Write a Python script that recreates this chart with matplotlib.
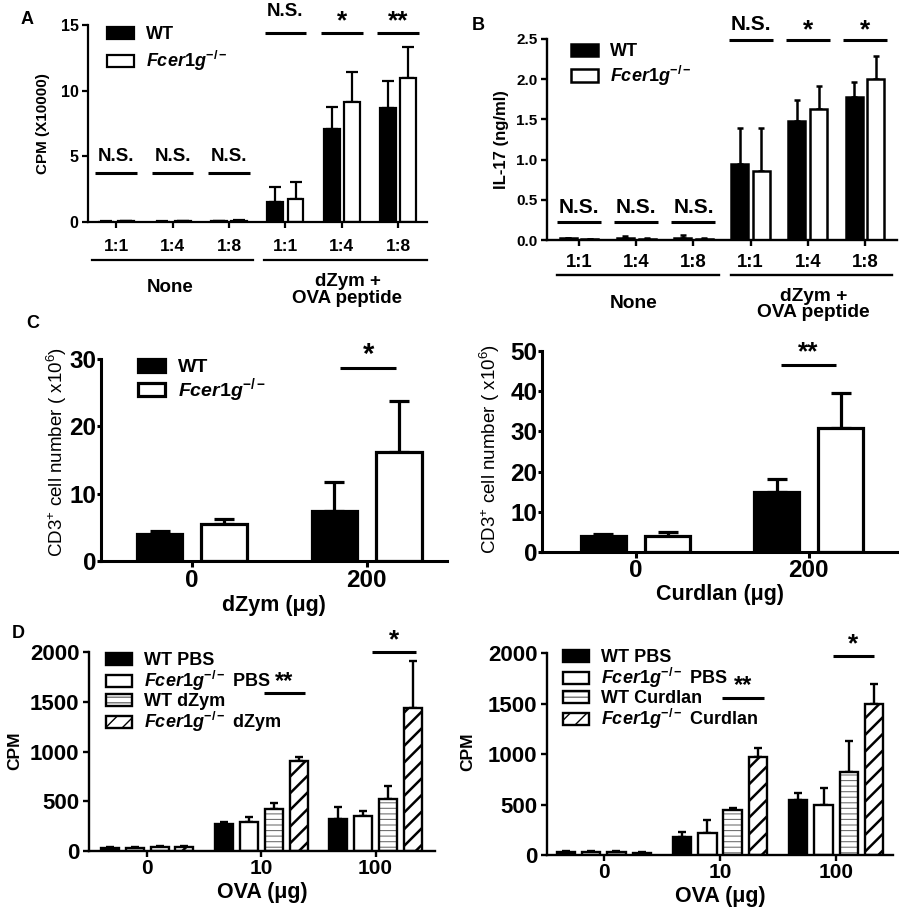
import numpy as np
import matplotlib
matplotlib.use("Agg")
import matplotlib.pyplot as plt
from matplotlib.transforms import blended_transform_factory


# -----------------------------
# Data
# -----------------------------
ratio_labels = ["1:1", "1:4", "1:8", "1:1", "1:4", "1:8"]

# A) proliferation, CPM (x10000)
a_wt = [0.03, 0.03, 0.04, 1.55, 7.08, 8.66]
a_wt_sem = [0.02, 0.02, 0.02, 1.14, 1.65, 2.05]
a_ko = [0.06, 0.07, 0.10, 1.75, 9.11, 11.0]
a_ko_sem = [0.02, 0.02, 0.03, 1.32, 2.34, 2.35]
a_sig = ["N.S.", "N.S.", "N.S.", "N.S.", "*", "**"]

# B) IL-17 (ng/ml)
b_wt = [0.02, 0.03, 0.02, 0.94, 1.48, 1.78]
b_wt_sem = [0.01, 0.02, 0.04, 0.45, 0.26, 0.19]
b_ko = [0.01, 0.01, 0.01, 0.86, 1.63, 2.00]
b_ko_sem = [0.00, 0.01, 0.02, 0.53, 0.28, 0.29]
b_sig = ["N.S.", "N.S.", "N.S.", "N.S.", "*", "*"]

# C) CD3+ cell number (x10^6)
dose_labels = ["0", "200"]
c1_wt = [3.97, 7.45]
c1_wt_sem = [0.50, 4.32]
c1_ko = [5.46, 16.15]
c1_ko_sem = [0.84, 7.65]
c2_wt = [4.06, 14.9]
c2_wt_sem = [0.54, 3.2]
c2_ko = [3.90, 30.96]
c2_ko_sem = [1.07, 8.69]

# D) CPM
ova_labels = ["0", "10", "100"]
d1_vals = {
    "WT PBS": ([33, 271, 324], [8, 23, 121]),
    "KO PBS": ([33, 288, 355], [6, 56, 50]),
    "WT stim": ([43, 421, 522], [8, 57, 130]),
    "KO stim": ([40, 903, 1441], [10, 43, 469]),
}
d2_vals = {
    "WT PBS": ([33, 175, 545], [8, 50, 67]),
    "KO PBS": ([33, 215, 496], [8, 132, 172]),
    "WT stim": ([33, 446, 826], [8, 17, 305]),
    "KO stim": ([23, 969, 1494], [6, 95, 199]),
}

KO = r"$\mathit{Fcer1g}^{-/-}$"

# -----------------------------
# Style
# -----------------------------
plt.rcParams["font.family"] = ["Liberation Sans", "DejaVu Sans"]
plt.rcParams["font.weight"] = "bold"
plt.rcParams["mathtext.fontset"] = "custom"
plt.rcParams["mathtext.rm"] = "Liberation Sans:bold"
plt.rcParams["mathtext.it"] = "Liberation Sans:italic:bold"
plt.rcParams["mathtext.bf"] = "Liberation Sans:bold"
plt.rcParams["hatch.linewidth"] = 1.0

W, H = 899, 913
fig = plt.figure(figsize=(W / 100, H / 100), dpi=100)


def px_axes(l, t, r, b):
    return fig.add_axes([l / W, 1 - b / H, (r - l) / W, (b - t) / H])


def style(ax, ysize, xsize, pad, lw, ylen=4.3, ypad=2.5):
    ax.spines["top"].set_visible(False)
    ax.spines["right"].set_visible(False)
    ax.spines["left"].set_linewidth(lw)
    ax.spines["bottom"].set_linewidth(lw)
    ax.tick_params(width=lw, length=4.3)
    ax.tick_params(axis="y", labelsize=ysize, pad=ypad, length=ylen)
    ax.tick_params(axis="x", labelsize=xsize, pad=pad)
    for t in ax.get_xticklabels() + ax.get_yticklabels():
        t.set_fontweight("bold")


def bars(ax, x, vals, sem, width, color, lw, cap, hatch=None, hatch_color=None, hatch_lw=1.0):
    if hatch is not None:
        # hatch drawn in its own colour, outline on top in black
        with plt.rc_context({"hatch.linewidth": hatch_lw}):
            hb = ax.bar(x, vals, width, color=color, edgecolor=hatch_color, linewidth=0,
                        hatch=hatch, zorder=2)
        bc = ax.bar(x, vals, width, facecolor="none", edgecolor="black",
                    linewidth=lw, zorder=3)
        handle = (hb.patches[0], bc.patches[0])
    else:
        bc = ax.bar(x, vals, width, color=color, edgecolor="black", linewidth=lw, zorder=2)
        handle = bc.patches[0]
    ax.errorbar(x, vals, yerr=[np.zeros(len(vals)), sem], fmt="none",
                ecolor="black", elinewidth=lw, capsize=cap, capthick=lw, zorder=1)
    return handle


def sig(ax, xc, half, y, label, ty, size):
    ax.plot([xc - half, xc + half], [y, y], color="black", lw=2.2,
            clip_on=False, solid_capstyle="butt")
    ax.text(xc, ty, label, ha="center", va="center", fontsize=size,
            fontweight="bold", clip_on=False)


def ylab(xpx, ypx, text, size, weight="bold"):
    fig.text(xpx / W, 1 - ypx / H, text, rotation=90, ha="center", va="center",
             fontsize=size, fontweight=weight)


def legend(ax, handles, labels, x, y, size, hl, hh, ls):
    ax.legend(handles, labels, loc="upper left", bbox_to_anchor=(x, y), frameon=False,
              fontsize=size, handlelength=hl, handleheight=hh, labelspacing=ls,
              borderpad=0, borderaxespad=0, handletextpad=0.67)


# -----------------------------
# Panel A
# -----------------------------
ax = px_axes(88, 25, 427, 222)
x = np.arange(len(ratio_labels))
h1 = bars(ax, x - 0.18, a_wt, a_wt_sem, 0.28, "black", 1.6, 4)
h2 = bars(ax, x + 0.18, a_ko, a_ko_sem, 0.28, "white", 1.6, 4)
ax.set_xlim(-0.5, 5.51)
ax.set_ylim(0, 15)
ax.set_yticks([0, 5, 10, 15])
ax.set_xticks(x)
ax.set_xticklabels(ratio_labels)
style(ax, 11.5, 12.5, 8, 1.6)
ylab(43, 123.5, "CPM (X10000)", 11)
for i, s in enumerate(a_sig):
    if i < 3:
        sig(ax, i, 0.37, 3.73, s, 5.0, 13.5)
    elif s == "N.S.":
        sig(ax, i, 0.37, 14.4, s, 16.0, 13.5)
    else:
        sig(ax, i, 0.37, 14.4, s, 15.3, 19)
tr = blended_transform_factory(ax.transData, ax.transAxes)
ax.plot([-0.43, 2.43], [-0.193, -0.193], color="black", lw=1.6, transform=tr, clip_on=False)
ax.plot([2.62, 5.51], [-0.193, -0.193], color="black", lw=1.6, transform=tr, clip_on=False)
ax.text(0.95, -0.33, "None", transform=tr, ha="center", va="center", fontsize=13.5)
ax.text(4.1, -0.345, "dZym +\nOVA peptide", transform=tr, ha="center", va="center",
        fontsize=13.5, linespacing=0.95)
legend(ax, [h1, h2], ["WT", KO], 0.056, 0.995, 13, 1.5, 0.67, 0.33)
fig.text(27 / W, 1 - 20 / H, "A", fontsize=13, fontweight="bold", ha="center", va="center")

# -----------------------------
# Panel B
# -----------------------------
ax = px_axes(547, 39, 897, 240)
h1 = bars(ax, x - 0.19, b_wt, b_wt_sem, 0.30, "black", 1.8, 2.5)
h2 = bars(ax, x + 0.19, b_ko, b_ko_sem, 0.30, "white", 1.8, 2.5)
ax.set_xlim(-0.56, 5.56)
ax.set_ylim(0, 2.5)
ax.set_yticks([0, 0.5, 1.0, 1.5, 2.0, 2.5])
ax.set_yticklabels(["0.0", "0.5", "1.0", "1.5", "2.0", "2.5"])
ax.set_xticks(x)
ax.set_xticklabels(ratio_labels)
style(ax, 11, 13.3, 5.5, 1.7)
ylab(502, 139.5, "IL-17 (ng/ml)", 12)
for i, s in enumerate(b_sig):
    if i < 3:
        sig(ax, i, 0.385, 0.22, s, 0.40, 15)
    elif s == "N.S.":
        sig(ax, i, 0.385, 2.49, s, 2.68, 15)
    else:
        sig(ax, i, 0.385, 2.49, s, 2.61, 19)
tr = blended_transform_factory(ax.transData, ax.transAxes)
ax.plot([-0.38, 2.45], [-0.174, -0.174], color="black", lw=1.7, transform=tr, clip_on=False)
ax.plot([2.66, 5.47], [-0.174, -0.174], color="black", lw=1.7, transform=tr, clip_on=False)
ax.text(0.95, -0.315, "None", transform=tr, ha="center", va="center", fontsize=13.8)
ax.text(4.1, -0.32, "dZym +\nOVA peptide", transform=tr, ha="center", va="center",
        fontsize=13.8, linespacing=0.95)
legend(ax, [h1, h2], ["WT", KO], 0.069, 0.98, 13, 1.5, 0.67, 0.2)
fig.text(478 / W, 1 - 25 / H, "B", fontsize=13, fontweight="bold", ha="center", va="center")

# -----------------------------
# Panel C (left: dZym, right: Curdlan)
# -----------------------------
xc = np.arange(len(dose_labels))
ylab_c = r"CD3$^{\mathregular{+}}$ cell number ( x10$^{\mathregular{6}}$)"

ax = px_axes(101, 359, 447, 561)
h1 = bars(ax, xc - 0.185, c1_wt, c1_wt_sem, 0.26, "black", 2.3, 7.5)
h2 = bars(ax, xc + 0.185, c1_ko, c1_ko_sem, 0.26, "white", 2.3, 7.5)
ax.set_xlim(-0.52, 1.46)
ax.set_ylim(0, 30)
ax.set_yticks([0, 10, 20, 30])
ax.set_xticks(xc)
ax.set_xticklabels(dose_labels)
style(ax, 17.5, 17.5, 1.5, 2.2, ylen=3, ypad=0.5)
ylab(57, 452, ylab_c, 13.5, "normal")
ax.set_xlabel("dZym (\u03bcg)", fontsize=15.5, fontweight="bold", labelpad=2)
sig(ax, 1.01, 0.16, 28.7, "*", 30.6, 21)
legend(ax, [h1, h2], ["WT", KO], 0.107, 1.0, 14, 1.4, 0.62, 0.0)
fig.text(33 / W, 1 - 323 / H, "C", fontsize=13, fontweight="bold", ha="center", va="center")

ax = px_axes(542, 351, 897, 552)
bars(ax, xc - 0.185, c2_wt, c2_wt_sem, 0.26, "black", 2.3, 7.5)
bars(ax, xc + 0.185, c2_ko, c2_ko_sem, 0.26, "white", 2.3, 7.5)
ax.set_xlim(-0.54, 1.51)
ax.set_ylim(0, 50)
ax.set_yticks([0, 10, 20, 30, 40, 50])
ax.set_xticks(xc)
ax.set_xticklabels(dose_labels)
style(ax, 17.5, 17.5, 0.5, 2.2, ylen=3, ypad=0.5)
ylab(490, 449.5, ylab_c, 13.5, "normal")
ax.set_xlabel("Curdlan (\u03bcg)", fontsize=15.5, fontweight="bold", labelpad=2)
sig(ax, 1.0, 0.16, 46.5, "**", 49.6, 19)

# -----------------------------
# Panel D
# -----------------------------
xd = np.arange(len(ova_labels))
off = 0.217
wd = 0.157


def panel_d(ax, vals, stim):
    names = ["WT PBS", "KO PBS", "WT stim", "KO stim"]
    labels = ["WT PBS", KO + " PBS", "WT " + stim, KO + " " + stim]
    fills = ["black", "white", "white", "white"]
    hatches = [None, None, "---", "//"]
    hcolors = [None, None, "0.45", "black"]
    hlws = [1.0, 1.0, 0.8, 1.8]
    handles = []
    for k, name in enumerate(names):
        m, s = vals[name]
        handles.append(bars(ax, xd + (k - 1.5) * off, m, s, wd, fills[k], 1.7, 3,
                            hatch=hatches[k], hatch_color=hcolors[k], hatch_lw=hlws[k]))
    ax.set_ylim(0, 2000)
    ax.set_yticks([0, 500, 1000, 1500, 2000])
    ax.set_xticks(xd)
    ax.set_xticklabels(ova_labels)
    style(ax, 16, 15, 1.5, 1.7)
    ax.set_xlabel("OVA (\u03bcg)", fontsize=15.5, fontweight="bold", labelpad=2.5)
    return handles, labels


ax = px_axes(89, 652, 435, 851)
hs, ls = panel_d(ax, d1_vals, "dZym")
ax.set_xlim(-0.51, 2.52)
ylab(15, 751, "CPM", 12.5)
sig(ax, 1.2, 0.18, 1588, "**", 1700, 17)
sig(ax, 2.16, 0.19, 2000, "*", 2120, 19)
legend(ax, hs, ls, 0.049, 1.0, 13, 1.45, 0.65, 0.0)
fig.text(18 / W, 1 - 633 / H, "D", fontsize=13, fontweight="bold", ha="center", va="center")

ax = px_axes(547, 653, 893, 855)
hs, ls = panel_d(ax, d2_vals, "Curdlan")
ax.set_xlim(-0.49, 2.49)
ylab(468, 752, "CPM", 12.5)
sig(ax, 1.2, 0.18, 1554, "**", 1680, 17)
sig(ax, 2.15, 0.18, 1970, "*", 2090, 19)
legend(ax, hs, ls, 0.046, 1.02, 13, 1.45, 0.65, 0.0)

fig.savefig("out.png", dpi=100)
